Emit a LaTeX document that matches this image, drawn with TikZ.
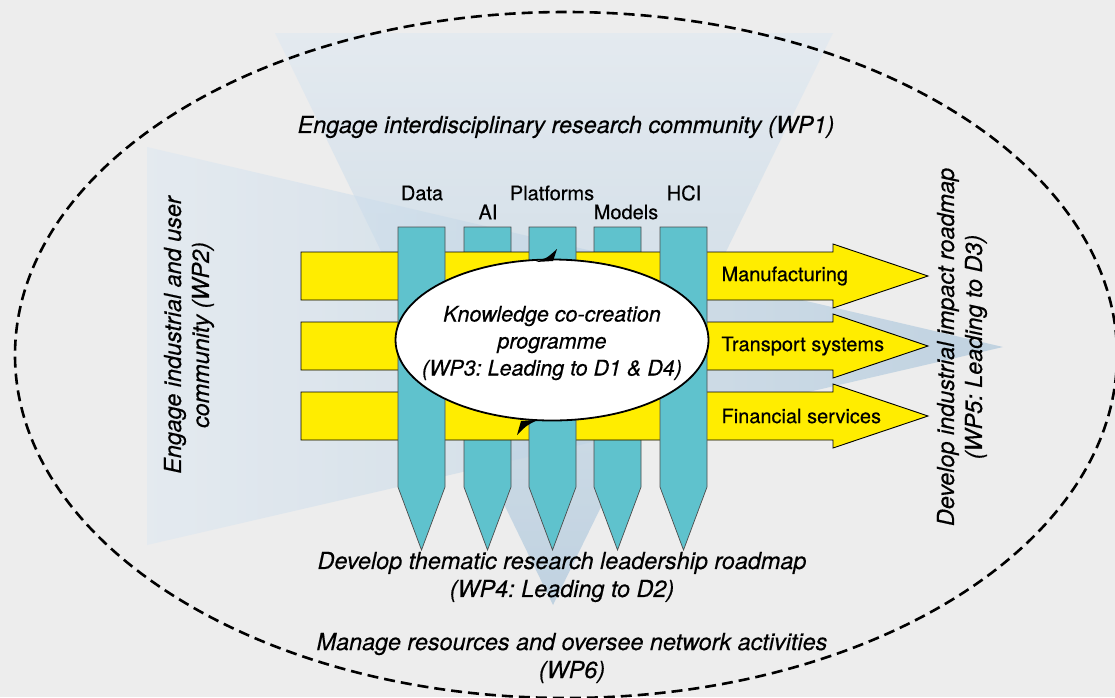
\documentclass[tikz,border=0pt]{standalone}
\usepackage{fontspec}
\setmainfont{TeX Gyre Heros}[UprightFeatures={FakeBold=0.4}, ItalicFeatures={FakeBold=0.4}]
\usetikzlibrary{shapes.geometric}
\frenchspacing

\definecolor{bggray}{HTML}{EDEDED}
\definecolor{wpyellow}{HTML}{FFED00}
\definecolor{wpteal}{HTML}{5FC2CD}
\definecolor{fanlight}{HTML}{DDE8F2}
\definecolor{fandark}{HTML}{9CBDD7}

\begin{document}
\begin{tikzpicture}[x=1pt, y=-1pt,
    sector/.style={fill=wpyellow, draw=black, line width=0.9pt},
    theme/.style={fill=wpteal, draw=black!70, line width=0.7pt},
    wplabel/.style={font=\fontsize{23.4}{28}\selectfont\itshape, align=center},
    sectorlabel/.style={font=\fontsize{20}{24}\selectfont, anchor=west},
    themelabel/.style={font=\fontsize{20}{24}\selectfont}]
    \useasboundingbox (0,0) rectangle (1115,697);
    \fill[bggray] (0,0) rectangle (1115,697);

    % the two work package fans
    \shade[top color=fanlight, bottom color=fandark, fill opacity=0.55]
        (275,33) -- (833,33) -- (553,605) -- cycle;
    \shade[left color=fanlight, right color=fandark, fill opacity=0.55]
        (147,147) -- (1003,347) -- (147,545) -- cycle;

    \draw[line width=2.6pt, dash pattern=on 11pt off 6pt]
        (566,355) ellipse [x radius=551, y radius=343];

    % themes running under the sectors
    \foreach \xl in {464,594} {
        \draw[theme] (\xl,227) -- ++(47,0) -- ++(0,260) -- ++(-23.5,63)
            -- ++(-23.5,-63) -- cycle;
    }
    % sectors
    \foreach \yc in {276,346,416} {
        \draw[sector] (301,\yc-24) -- (833,\yc-24) -- (833,\yc-32) -- (928,\yc)
            -- (833,\yc+32) -- (833,\yc+24) -- (301,\yc+24) -- cycle;
    }
    % themes running over the sectors
    \foreach \xl in {398,529,660} {
        \draw[theme] (\xl,227) -- ++(47,0) -- ++(0,260) -- ++(-23.5,63)
            -- ++(-23.5,-63) -- cycle;
    }

    \node[themelabel] (data) at (422,193) {Data};
    \node[themelabel] (ai) at (488,212) {AI};
    \node[themelabel] (platforms) at (552,193) {Platforms};
    \node[themelabel] (models) at (626,212) {Models};
    \node[themelabel] (hci) at (684,193) {HCI};

    \node[sectorlabel] (manufacturing) at (718,276) {Manufacturing};
    \node[sectorlabel] (transport) at (718,346) {Transport systems};
    \node[sectorlabel] (financial) at (718,416) {Financial services};

    % co-creation cycle
    \node[ellipse, draw, fill=white, line width=1.8pt, inner sep=0pt,
        minimum width=313, minimum height=161] (cycle) at (552,340) {};
    \fill (536,262) .. controls (547,258) .. (557,249) -- (553,261) -- cycle;
    \fill (538,420) .. controls (527,425) .. (517,435) -- (521,421) -- cycle;
    \node[align=center, font=\fontsize{21.5}{27}\selectfont\itshape] (wp3)
        at (552,343) {Knowledge co-creation\\programme\\(WP3: Leading to D1 \& D4)};

    \node[wplabel] (wp1) at (566,127) {Engage interdisciplinary research community (WP1)};
    \node[wplabel, rotate=90] (wp2) at (189,335) {Engage industrial and user\\community (WP2)};
    \node[wplabel] (wp4) at (562,577) {Develop thematic research leadership roadmap\\(WP4: Leading to D2)};
    \node[wplabel, rotate=90] (wp5) at (962,347) {Develop industrial impact roadmap\\(WP5: Leading to D3)};
    \node[wplabel] (wp6) at (572,658) {Manage resources and oversee network activities\\(WP6)};
\end{tikzpicture}
\end{document}
